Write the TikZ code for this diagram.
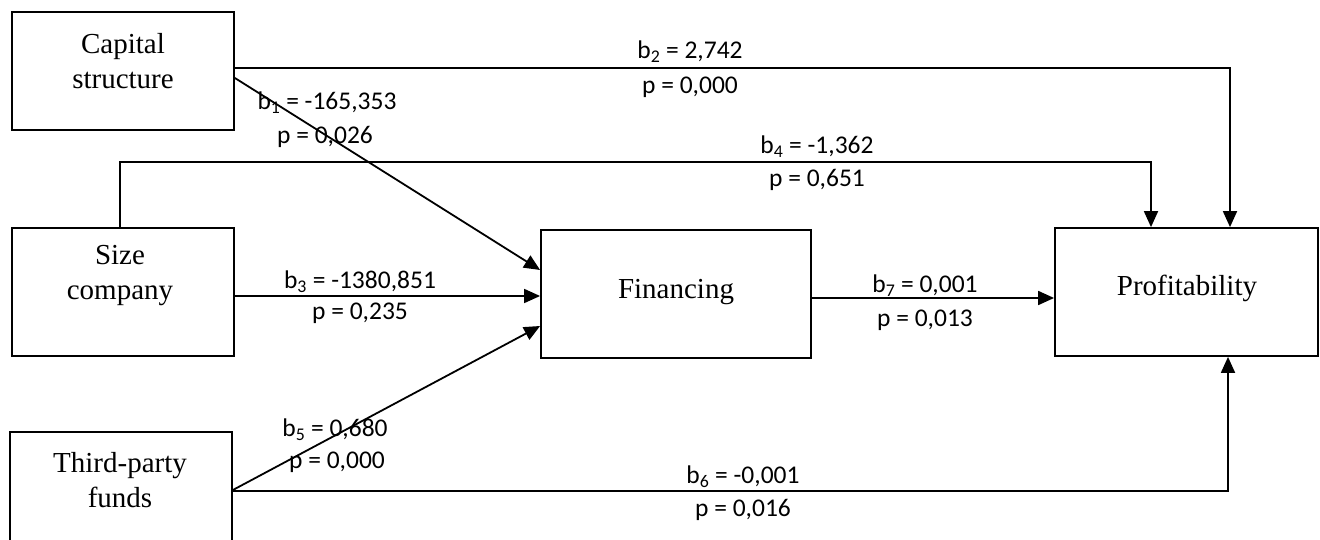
\documentclass[tikz,border=0pt]{standalone}
\usepackage{fontspec}
\setmainfont{Liberation Serif}
\newfontfamily\labfont{Carlito}
\usetikzlibrary{arrows.meta}
\tikzset{
  box/.style={draw, line width=1.8pt, inner sep=0pt, anchor=center},
  boxtext/.style={align=center, font=\fontsize{29}{35}\selectfont, inner sep=0pt},
  lab/.style={font=\labfont\fontsize{25.5}{28}\selectfont, inner sep=0pt},
  conn/.style={line width=1.8pt},
  arr/.style={conn, -{Triangle[length=16pt,width=14pt]}},
}
\begin{document}
\begin{tikzpicture}[x=1pt,y=-1pt]
\clip (0,0) rectangle (1320,540);
\fill[white] (0,0) rectangle (1320,540);
% boxes
\node[box, minimum width=222pt, minimum height=118pt] (cap) at (123,71) {};
\node[box, minimum width=222pt, minimum height=128pt] (size) at (123,292) {};
\node[box, minimum width=222pt, minimum height=128pt] (third) at (121,496) {};
\node[box, minimum width=270pt, minimum height=128pt] (fin) at (676,294) {};
\node[box, minimum width=263pt, minimum height=128pt] (prof) at (1186.5,292) {};
% box texts
\node[boxtext] (capt) at (123,61) {Capital\\structure};
\node[boxtext] (sizet) at (120,276) {Size\\company};
\node[boxtext] (thirdt) at (120,480) {Third-party\\funds};
\node[boxtext] (fint) at (676,292) {Financing};
\node[boxtext] (proft) at (1187,288) {Profitability};
% connectors
\draw[arr] ([yshift=3pt]cap.east) -| ([xshift=43.5pt]prof.north);
\draw[arr] ([yshift=-7pt]cap.east) -- ([yshift=24pt]fin.west);
\draw[arr] ([xshift=-3pt]size.north) -- ++(0,-65) -| ([xshift=-35.5pt]prof.north);
\draw[arr] ([yshift=-4pt]size.east) -- ([yshift=-2pt]fin.west);
\draw[arr] ([yshift=6pt]third.east) -- ([yshift=-32pt]fin.west);
\draw[arr] ([yshift=5pt]third.east) -| ([xshift=41.5pt]prof.south);
\draw[arr] ([yshift=-4pt]fin.east) -- ([yshift=-6pt]prof.west);
% labels
\node[lab] (l2b) at (690,52) {b\textsubscript{2} = 2,742};
\node[lab] (l2p) at (690,87) {p = 0,000};
\node[lab] (l1b) at (327,103) {b\textsubscript{1} = -165,353};
\node[lab] (l1p) at (325,137) {p = 0,026};
\node[lab] (l4b) at (817,147) {b\textsubscript{4} = -1,362};
\node[lab] (l4p) at (817,180) {p = 0,651};
\node[lab] (l3b) at (360,282) {b\textsubscript{3} = -1380,851};
\node[lab] (l3p) at (360,313) {p = 0,235};
\node[lab] (l7b) at (925,286) {b\textsubscript{7} = 0,001};
\node[lab] (l7p) at (925,320) {p = 0,013};
\node[lab] (l5b) at (335,430) {b\textsubscript{5} = 0,680};
\node[lab] (l5p) at (337,462) {p = 0,000};
\node[lab] (l6b) at (743,477) {b\textsubscript{6} = -0,001};
\node[lab] (l6p) at (743,510) {p = 0,016};
\end{tikzpicture}
\end{document}
